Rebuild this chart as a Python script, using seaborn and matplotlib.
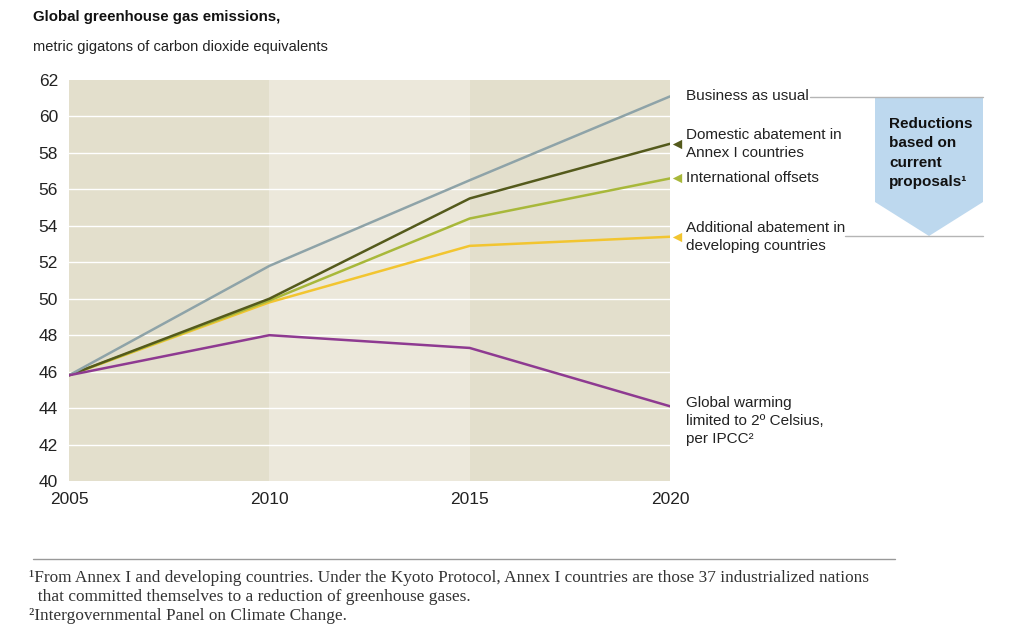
import matplotlib
matplotlib.use("Agg")
import matplotlib.pyplot as plt
import seaborn as sns
import pandas as pd
from matplotlib.patches import Polygon
from matplotlib.lines import Line2D

years = [2005, 2010, 2015, 2020]
business_as_usual = [45.8, 51.8, 56.5, 61.1]
domestic_abatement = [45.8, 50.0, 55.5, 58.5]
international_offsets = [45.8, 49.9, 54.4, 56.6]
additional_abatement = [45.8, 49.8, 52.9, 53.4]
global_warming_2c = [45.8, 48.0, 47.3, 44.1]

series_names = ["Additional abatement", "International offsets", "Domestic abatement",
                "Business as usual", "Global warming"]
series_values = [additional_abatement, international_offsets, domestic_abatement,
                 business_as_usual, global_warming_2c]
colors = ["#f2c530", "#a8b83a", "#545a1c", "#8ea3a8", "#8e3a91"]

y_ticks = [40, 42, 44, 46, 48, 50, 52, 54, 56, 58, 60, 62]

rows = []
for name, vals in zip(series_names, series_values):
    for yr, v in zip(years, vals):
        rows.append({"year": yr, "value": v, "series": name})
df = pd.DataFrame(rows)

sns.set_style("white")
plt.rcParams["font.family"] = ["Liberation Sans", "DejaVu Sans"]

fig = plt.figure(figsize=(10.24, 6.38), dpi=100)
ax = fig.add_axes([69/1024, 1-481/638, (670-69)/1024, (481-80)/638])

# background bands
ax.axvspan(2005, 2010, color="#e3dfcc", zorder=0, lw=0)
ax.axvspan(2010, 2015, color="#ece8db", zorder=0, lw=0)
ax.axvspan(2015, 2020, color="#e3dfcc", zorder=0, lw=0)
for t in y_ticks[1:-1]:
    ax.axhline(t, color="white", lw=1.0, zorder=1)

sns.lineplot(data=df, x="year", y="value", hue="series", hue_order=series_names,
             palette=dict(zip(series_names, colors)), lw=1.8, legend=False, ax=ax, zorder=3)

# end markers
for vals, c in [(domestic_abatement, colors[2]), (international_offsets, colors[1]),
                (additional_abatement, colors[0])]:
    ax.scatter([2020.17], [vals[-1]], marker="<", s=45, color=c, clip_on=False, zorder=4, lw=0)

ax.set_xlim(2005, 2020)
ax.set_ylim(40, 62)
ax.set_xticks(years)
ax.set_yticks(y_ticks)
ax.tick_params(axis="both", length=0, labelsize=12.5, colors="#222222")
ax.tick_params(axis="y", pad=8)
ax.tick_params(axis="x", pad=8)
ax.set_xlabel("")
ax.set_ylabel("")
for s in ax.spines.values():
    s.set_visible(False)

# labels on right
lab_kw = dict(fontsize=11, color="#222222", va="center", ha="left", clip_on=False,
              linespacing=1.38)
lx = 2020.4
ax.text(lx, 61.1, "Business as usual", **lab_kw)
ax.text(lx, 58.5, "Domestic abatement in\nAnnex I countries", **lab_kw)
ax.text(lx, 56.6, "International offsets", **lab_kw)
ax.text(lx, 53.4, "Additional abatement in\ndeveloping countries", **lab_kw)
ax.text(lx, 43.3, "Global warming\nlimited to 2º Celsius,\nper IPCC²", **lab_kw)

# reference lines and blue arrow (figure pixel coordinates)
def fx(px):
    return px / 1024
def fy(py):
    return 1 - py / 638

fig.add_artist(Line2D([fx(810), fx(983)], [fy(97), fy(97)], color="#b5b5b5", lw=1.0))
fig.add_artist(Line2D([fx(845), fx(983)], [fy(236), fy(236)], color="#b5b5b5", lw=1.0))
arrow = Polygon([(fx(875), fy(97)), (fx(983), fy(97)), (fx(983), fy(202)),
                 (fx(929), fy(236)), (fx(875), fy(202))], closed=True,
                facecolor="#bdd8ee", edgecolor="none", transform=fig.transFigure, zorder=0)
fig.add_artist(arrow)
fig.text(fx(889), fy(153), "Reductions\nbased on\ncurrent\nproposals¹", fontsize=11,
         fontweight="bold", color="#111111", va="center", ha="left", linespacing=1.5)

# title
fig.text(fx(33), fy(17), "Global greenhouse gas emissions,", fontsize=10.8, fontweight="bold",
         color="#111111", va="center", ha="left")
fig.text(fx(33), fy(47), "metric gigatons of carbon dioxide equivalents", fontsize=10.5,
         color="#222222", va="center", ha="left")

# footer
fig.add_artist(Line2D([fx(33), fx(895)], [fy(559), fy(559)], color="#999999", lw=1.0))
foot_kw = dict(fontsize=12.4, color="#333333", va="center", ha="left",
               family=["Liberation Serif", "DejaVu Serif"])
fig.text(fx(29), fy(578), "¹From Annex I and developing countries. Under the Kyoto Protocol, Annex I countries are those 37 industrialized nations", **foot_kw)
fig.text(fx(29), fy(597), "  that committed themselves to a reduction of greenhouse gases.", **foot_kw)
fig.text(fx(29), fy(616), "²Intergovernmental Panel on Climate Change.", **foot_kw)

fig.savefig("out.png", dpi=100)
